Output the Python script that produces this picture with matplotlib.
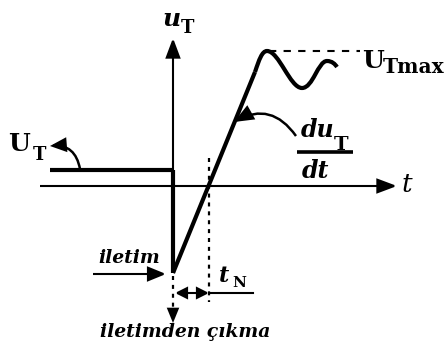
import matplotlib
matplotlib.use("Agg")
import matplotlib.pyplot as plt
from matplotlib.patches import FancyArrowPatch, PathPatch
from matplotlib.path import Path

# Canvas in pixel-like units (y grows downward)
W, H = 448, 345

# Axes of the diagram
t_axis_x = [40, 397]
t_axis_y = 186
u_axis_x = 173
u_axis_y = [273, 38]

# Voltage waveform u_T(t): hold level, sudden drop, linear rise (du/dt)
hold_x = [50, 173]
hold_y = [170, 170]
drop_x = [173, 173]
drop_y = [170, 273]
ramp_x = [173, 255]
ramp_y = [273, 72]

# Overshoot to U_Tmax and ringing (cubic Bezier control points)
ring_x = [255, 259, 262, 267, 279, 290, 302, 313, 318, 327, 332, 335, 337]
ring_y = [72, 60, 51, 51, 51, 88, 88, 88, 61, 61, 61, 64, 67]

u_tmax_y = 51
u_tmax_x = [269, 360]

# Turn-off time t_N markers
t_zero_cross = 209
t_on = 173
tn_y = 293

BLACK = "black"
SERIF = "DejaVu Serif"

fig = plt.figure(figsize=(W / 100, H / 100), dpi=100)
ax = fig.add_axes([0, 0, 1, 1])
ax.set_xlim(0, W)
ax.set_ylim(H, 0)
ax.axis("off")


def arrow(p0, p1, hl=11, hw=4.5, lw=1.5, style="-|>", rad=0.0, ls="-"):
    a = FancyArrowPatch(p0, p1,
                        arrowstyle=f"{style},head_length={hl},head_width={hw}",
                        connectionstyle=f"arc3,rad={rad}",
                        mutation_scale=1, lw=lw, color=BLACK,
                        shrinkA=0, shrinkB=0, linestyle=ls,
                        joinstyle="miter", capstyle="butt")
    ax.add_patch(a)


# Axes with arrow heads
arrow((t_axis_x[0], t_axis_y), (t_axis_x[1], t_axis_y), hl=12, hw=4.5, lw=1.5)
arrow((u_axis_x, u_axis_y[0]), (u_axis_x, u_axis_y[1]), hl=12, hw=4.5, lw=1.5)

# Waveform
wlw = 3.0
ax.plot(hold_x, hold_y, color=BLACK, lw=wlw, solid_capstyle="butt")
ax.plot(drop_x, drop_y, color=BLACK, lw=wlw, solid_capstyle="butt")
ax.plot(ramp_x, ramp_y, color=BLACK, lw=wlw, solid_capstyle="butt")
codes = [Path.MOVETO] + [Path.CURVE4] * (len(ring_x) - 1)
ring = Path(list(zip(ring_x, ring_y)), codes)
ax.add_patch(PathPatch(ring, fill=False, lw=wlw, edgecolor=BLACK,
                       capstyle="butt"))

# U_Tmax dashed level
ax.plot(u_tmax_x, [u_tmax_y, u_tmax_y], color=BLACK, lw=1.5,
        dashes=(3.5, 3.5))

# Dotted guide at zero crossing and below turn-on point
ax.plot([t_zero_cross, t_zero_cross], [158, 302], color=BLACK, lw=1.6,
        dashes=(1.8, 2.2))
ax.plot([t_on, t_on], [276, 310], color=BLACK, lw=1.6, dashes=(1.8, 2.2))
arrow((t_on, 306), (t_on, 323), hl=11, hw=4.5, lw=0.01)

# t_N interval
arrow((t_on + 2, tn_y), (t_zero_cross, tn_y), style="<|-|>", hl=7, hw=3.5,
      lw=1.5)
ax.plot([t_zero_cross, 253], [tn_y, tn_y], color=BLACK, lw=1.5)

# "iletim" arrow
arrow((93, 274), (166, 274), hl=11, hw=4.5, lw=1.5)

# Curved label arrows
arrow((80, 169), (50, 146), hl=9, hw=4, lw=1.8, rad=0.45)
arrow((296, 136), (234, 122), hl=11, hw=4.5, lw=1.8, rad=0.45)

# Texts
bold = dict(family=SERIF, weight="bold", color=BLACK, ha="left",
            va="baseline")
ax.text(8, 151, "U", fontsize=18, **bold)
ax.text(33, 160, "T", fontsize=13, **bold)

ax.text(162, 26, "u", fontsize=18, style="italic", **bold)
ax.text(181, 33, "T", fontsize=13, **bold)

ax.text(362, 68, "U", fontsize=18, **bold)
ax.text(383, 73, "Tmax", fontsize=14.5, **bold)

ax.text(301, 137, "du", fontsize=17, style="italic", **bold)
ax.text(334, 150, "T", fontsize=14, **bold)
ax.plot([297, 353], [152, 152], color=BLACK, lw=2.6, solid_capstyle="butt")
ax.text(302, 178, "dt", fontsize=17, style="italic", **bold)

ax.text(402, 192, "t", fontsize=19, style="italic", ha="left",
        va="baseline", family=SERIF, color=BLACK)

ax.text(219, 282, "t", fontsize=16, style="italic", **bold)
ax.text(232, 287, "N", fontsize=11, **bold)

ax.text(98, 263, "iletim", fontsize=13.5, style="italic", **bold)
ax.text(100, 337, "iletimden çıkma", fontsize=13.5, style="italic", **bold)

fig.savefig("out.png", dpi=100)
